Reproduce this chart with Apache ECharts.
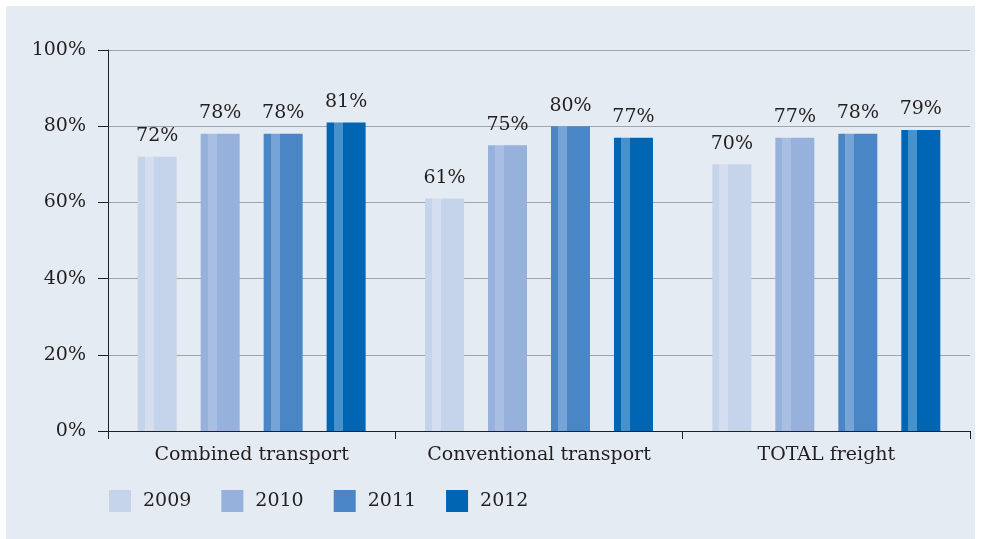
<!DOCTYPE html>
<html><head><meta charset="utf-8">
<script src="https://cdn.jsdelivr.net/npm/echarts@6/dist/echarts.min.js"></script>
<style>html,body{margin:0;padding:0;background:#fff}#c{width:981px;height:539px}</style>
</head><body><div id="c"></div>
<script>
const categories = ['Combined transport', 'Conventional transport', 'TOTAL freight'];
const years = ['2009', '2010', '2011', '2012'];
const v2009 = [72, 61, 70];
const v2010 = [78, 75, 77];
const v2011 = [78, 80, 78];
const v2012 = [81, 77, 79];
const yTicks = [0, 20, 40, 60, 80, 100];

const values = [v2009, v2010, v2011, v2012];
const colors = ['#c6d4eb', '#95b1dc', '#4a86c5', '#0066b3'];
const stripes = ['#d4def0', '#a8bfe3', '#77a4d6', '#4791cc'];
const font = 'DejaVu Serif';

function grad(base, light) {
  return new echarts.graphic.LinearGradient(0, 0, 1, 0, [
    {offset: 0, color: base}, {offset: 0.18, color: base},
    {offset: 0.18, color: light}, {offset: 0.41, color: light},
    {offset: 0.41, color: base}, {offset: 1, color: base}
  ]);
}

const chart = echarts.init(document.getElementById('c'));
chart.setOption({
  animation: false,
  graphic: [{type: 'rect', z: -10, shape: {x: 6, y: 6, width: 969, height: 533}, style: {fill: '#e4ebf2'}}],
  textStyle: {fontFamily: font},
  grid: {left: 108, right: 11, top: 50, bottom: 108},
  legend: {
    left: 109, top: 490, padding: 0, itemWidth: 22, itemHeight: 22, itemGap: 30, icon: 'rect',
    textStyle: {fontFamily: font, fontSize: 19, color: '#231f20', padding: [0, 0, 0, 7]},
    data: years.map((y, i) => ({name: y, itemStyle: {color: colors[i]}}))
  },
  xAxis: {
    type: 'category', data: categories,
    axisLine: {lineStyle: {color: '#231f20', width: 1}},
    axisTick: {show: true, length: 8, interval: 0, lineStyle: {color: '#231f20'}},
    axisLabel: {fontFamily: font, fontSize: 19, color: '#231f20', margin: 15, interval: 0}
  },
  yAxis: {
    type: 'value', min: 0, max: 100, interval: 20,
    axisLine: {show: true, lineStyle: {color: '#231f20'}},
    axisTick: {show: true, inside: false, length: 10, lineStyle: {color: '#231f20'}},
    axisLabel: {fontFamily: font, fontSize: 19, color: '#231f20', margin: 22, formatter: v => yTicks.includes(v) ? v + '%' : ''},
    splitLine: {lineStyle: {color: '#a0a4a8', width: 1}}
  },
  series: years.map((y, i) => ({
    name: y, type: 'bar', data: values[i],
    barWidth: 39, barGap: '61.5%',
    itemStyle: {color: grad(colors[i], stripes[i])},
    label: {show: true, position: 'top', distance: 11, formatter: '{c}%', fontFamily: font, fontSize: 19, color: '#231f20'}
  }))
});
</script></body></html>
